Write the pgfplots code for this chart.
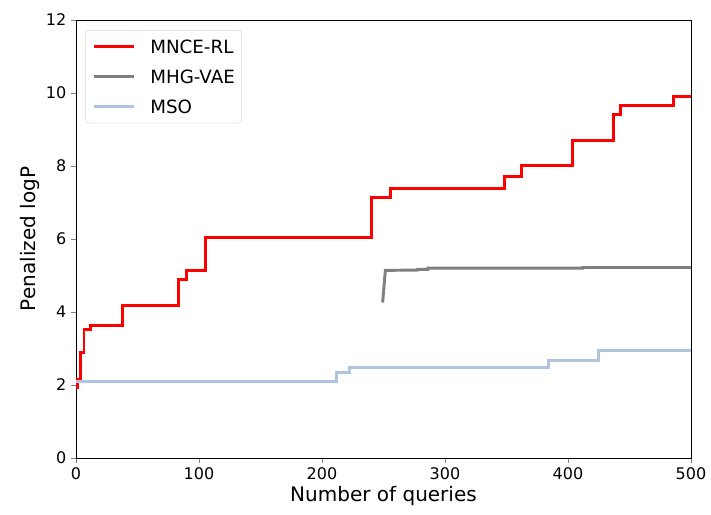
\documentclass[border=0pt]{standalone}
\usepackage{pgfplots}
\pgfplotsset{compat=1.18}
\usepackage{fontspec}
\setmainfont{DejaVu Sans}
\definecolor{msoblue}{HTML}{B0C4DE}
\definecolor{mhggray}{HTML}{808080}
\begin{document}
\begin{tikzpicture}
\begin{axis}[
  name=ax,
  scale only axis,
  width=461.25pt, height=328.5pt,
  xmin=0, xmax=500, ymin=0, ymax=12,
  xtick={0,100,...,500}, ytick={0,2,...,12},
  tick pos=left, tick align=outside,
  major tick length=3.75pt,
  /pgf/number format/assume math mode=true,
  ticklabel style={font=\fontsize{12}{14}\selectfont},
  xlabel={Number of queries}, ylabel={Penalized logP},
  label style={font=\fontsize{15}{18}\selectfont},
  xlabel style={yshift=2pt},
  ylabel style={yshift=-2pt},
  axis line style={line width=0.6pt},
  legend style={at={(0,1)}, anchor=north west, xshift=7pt, yshift=-7.5pt,
    draw=black!15, rounded corners=2.5pt, font=\fontsize{13.7}{16}\selectfont,
    inner xsep=5pt, inner ysep=7.5pt,
    nodes={inner sep=0pt, text height=10pt, text depth=0pt},
    row sep=12.3pt, column sep=10.8pt},
  legend cell align=left,
  legend image code/.code={\draw[#1] (0pt,0pt) -- (30.5pt,0pt);},
]
\addplot[red, line width=2.2pt, const plot] coordinates {
(0,1.92) (1.5,2.15) (3.5,2.9) (6.5,3.53) (11.5,3.62) (38,4.18) (83,4.9) (90,5.14)
(105.5,6.03) (240,7.13) (255.5,7.38) (348,7.71) (362.5,8.01) (404,8.70) (437,9.40)
(442.5,9.67) (486,9.90) (500,9.90)};
\addlegendentry{MNCE-RL}
\addplot[mhggray, line width=2.2pt] coordinates {
(249.3,4.26) (251.5,5.14) (278,5.15) (278,5.17) (286,5.17) (286,5.20) (412,5.20) (412,5.22) (500,5.22)};
\addlegendentry{MHG-VAE}
\addplot[msoblue, line width=2.2pt, const plot] coordinates {
(0,2.10) (211.6,2.33) (222,2.49) (384.5,2.67) (425,2.95) (500,2.95)};
\addlegendentry{MSO}
\end{axis}
\pgfresetboundingbox
\useasboundingbox (ax.south west) ++(-57pt,-42pt) rectangle ([xshift=15pt,yshift=15pt]ax.north east);
\end{tikzpicture}
\end{document}
